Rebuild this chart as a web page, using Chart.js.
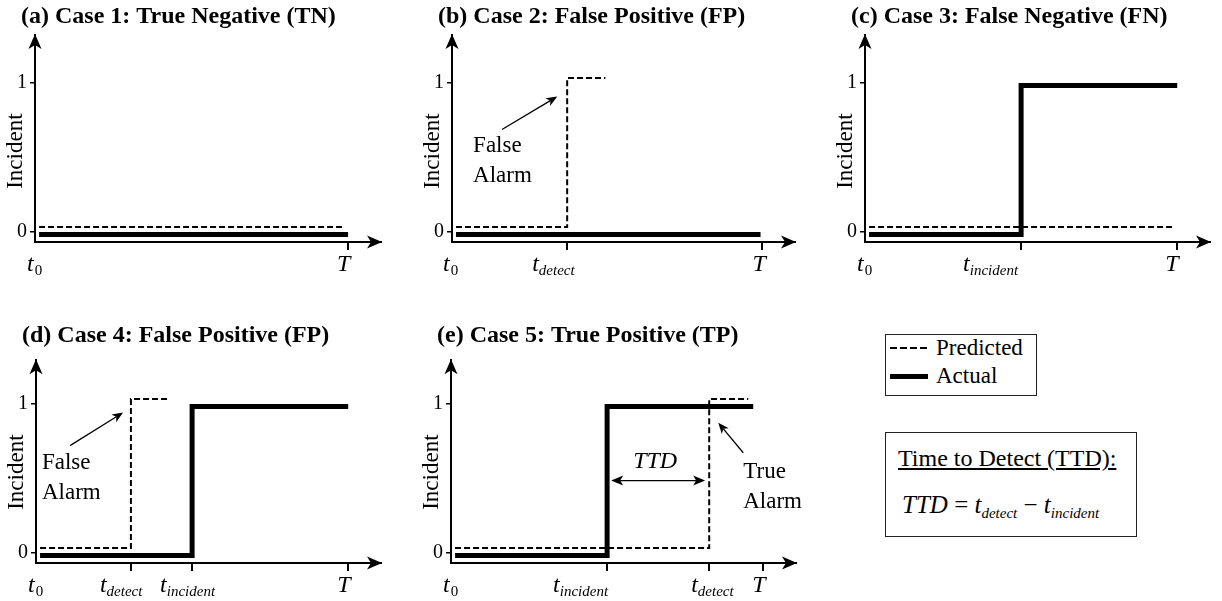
<!DOCTYPE html>
<html>
<head>
<meta charset="utf-8">
<script src="https://cdn.jsdelivr.net/npm/chart.js@4.4.0/dist/chart.umd.min.js"></script>
<style>
html, body { margin:0; padding:0; background:#fff; width:1222px; height:601px; overflow:hidden; }
body { position:relative; font-family:'Liberation Serif', serif; color:#000; }
canvas { position:absolute; }
.box { position:absolute; box-sizing:border-box; border:1.5px solid #222; }
.txt { position:absolute; white-space:pre; line-height:1; font-family:'Liberation Serif', serif; }
.it { font-style:italic; }
.sub { font-size:15px; font-style:italic; position:relative; top:5px; }
</style>
</head>
<body>
<div class="box" style="left:885px;top:334px;width:152px;height:62px;"></div>
<div style="position:absolute;left:890px;top:347px;width:38px;height:2px;background:repeating-linear-gradient(to right,#000 0 7px,transparent 7px 10px);"></div>
<div style="position:absolute;left:890px;top:374px;width:38px;height:5px;background:#000;"></div>
<div class="txt" id="legPred" style="left:936px;top:336px;font-size:23px;"></div>
<div class="txt" id="legAct" style="left:936px;top:364px;font-size:23px;"></div>

<div class="box" style="left:885px;top:432px;width:252px;height:105px;"></div>
<div class="txt" style="left:898px;top:446px;font-size:24px;text-decoration:underline;text-underline-offset:2px;">Time to Detect (TTD):</div>
<div class="txt" style="left:902px;top:492px;font-size:25px;"><span class="it">TTD</span> = <span class="it">t</span><span class="sub">detect</span> − <span class="it">t</span><span class="sub">incident</span></div>

<script>
// ---------------- data ----------------
const caseTitles = [
  '(a) Case 1: True Negative (TN)',
  '(b) Case 2: False Positive (FP)',
  '(c) Case 3: False Negative (FN)',
  '(d) Case 4: False Positive (FP)',
  '(e) Case 5: True Positive (TP)'
];
const seriesNames = ['Predicted', 'Actual'];
const tDetect = [null, 0.371, null, 0.304, 0.827];
const tIncident = [null, null, 0.5, 0.5, 0.5];
const seriesStart = 0.013;
const predictedEnd = [0.99, 0.494, 0.987, 0.426, 0.952];
const actualEnd = [1.0, 0.994, 1.0, 1.0, 0.968];
const predictedLevels = [0.03, 1.03];
const actualLevels = [-0.02, 0.98];
const yTickValues = [0, 1];
const yTickLabels = ['0', '1'];
const yAxisTitle = 'Incident';
const xEndLabel = 'T';

// ---------------- layout (positions / styles) ----------------
const PX_Y = 149;
const Y_MIN = -0.07, X_MAX = 1.105;
const LEFT_W = 40, RIGHT_PAD = 15, BOTTOM_H = 38;
const SERIF = '"Liberation Serif"';
const panelLayout = [
  {axisX:35,  axisY:242, unitX:313, yMax:1.32, titleY:23},
  {axisX:452, axisY:242, unitX:310, yMax:1.32, titleY:23},
  {axisX:865, axisY:242, unitX:312, yMax:1.32, titleY:23},
  {axisX:36,  axisY:563, unitX:312, yMax:1.29, titleY:342},
  {axisX:451, axisY:563, unitX:312, yMax:1.29, titleY:342}
];
const tickLabelDx = [
  {t0:-8, T:-11},
  {t0:-9, detect:-35, T:-10},
  {t0:-8, incident:-58, T:-12},
  {t0:-8, detect:-31, incident:-32, T:-11},
  {t0:-8, incident:-54, detect:-18, T:-11}
];
const annotations = [
  [],
  [
    {kind:'text', lines:['False','Alarm'], x:0.068, ys:[0.537,0.336]},
    {kind:'arrow', from:[0.161,0.685], to:[0.339,0.906]}
  ],
  [],
  [
    {kind:'text', lines:['False','Alarm'], x:0.019, ys:[0.564,0.362]},
    {kind:'arrow', from:[0.109,0.718], to:[0.279,0.94]}
  ],
  [
    {kind:'ttd', y:0.483, textY:0.57, gap:0.013},
    {kind:'text', lines:['True','Alarm'], x:0.936, ys:[0.503,0.302]},
    {kind:'arrow', from:[0.936,0.67], to:[0.856,0.872]}
  ]
];

document.getElementById('legPred').textContent = seriesNames[0];
document.getElementById('legAct').textContent = seriesNames[1];

function stepPoints(start, t, end, levels) {
  if (t == null) return [{x:start, y:levels[0]}, {x:end, y:levels[0]}];
  return [{x:start, y:levels[0]}, {x:t, y:levels[1]}, {x:end, y:levels[1]}];
}

function arrowHead(ctx, x, y, ang, len, hw, notch) {
  const c = Math.cos(ang), s = Math.sin(ang);
  const bx = x - len * c, by = y - len * s;
  ctx.beginPath();
  ctx.moveTo(x, y);
  ctx.lineTo(bx - hw * s, by + hw * c);
  ctx.lineTo(x - (len - notch) * c, y - (len - notch) * s);
  ctx.lineTo(bx + hw * s, by - hw * c);
  ctx.closePath();
  ctx.fill();
}

function arrowLine(ctx, x1, y1, x2, y2, len, hw, notch, both) {
  const ang = Math.atan2(y2 - y1, x2 - x1);
  const c = Math.cos(ang), s = Math.sin(ang);
  const sx = both ? x1 + (len - notch) * c : x1, sy = both ? y1 + (len - notch) * s : y1;
  ctx.beginPath();
  ctx.moveTo(sx, sy);
  ctx.lineTo(x2 - (len - notch) * c, y2 - (len - notch) * s);
  ctx.stroke();
  arrowHead(ctx, x2, y2, ang, len, hw, notch);
  if (both) arrowHead(ctx, x1, y1, ang + Math.PI, len, hw, notch);
}

function tickLabelsFor(i) {
  const list = [{v:0, main:'t', sub:'0', key:'t0', subItalic:false}];
  if (tDetect[i] != null) list.push({v:tDetect[i], main:'t', sub:'detect', key:'detect', subItalic:true});
  if (tIncident[i] != null) list.push({v:tIncident[i], main:'t', sub:'incident', key:'incident', subItalic:true});
  list.push({v:1, main:xEndLabel, sub:'', key:'T'});
  return list.sort((a, b) => a.v - b.v);
}

const decorPlugin = {
  id: 'caseDecor',
  afterDraw(chart, args, opts) {
    const i = opts.panel;
    const L = panelLayout[i];
    const {ctx, chartArea: a} = chart;
    const xs = chart.scales.x, ys = chart.scales.y;
    ctx.save();
    ctx.fillStyle = '#000';
    ctx.strokeStyle = '#000';
    // axis arrowheads
    arrowHead(ctx, a.left, a.top - 1, -Math.PI / 2, 15, 6.5, 4);
    arrowHead(ctx, a.right + 1, a.bottom, 0, 15, 6.5, 4);
    // title
    ctx.textBaseline = 'alphabetic';
    ctx.textAlign = 'left';
    ctx.font = 'bold 24px ' + SERIF;
    ctx.fillText(caseTitles[i], a.left - 14, L.titleY - opts.canvasTop);
    // y axis title
    ctx.save();
    ctx.font = '23px ' + SERIF;
    ctx.translate(a.left - 19, ys.getPixelForValue(0.54));
    ctx.rotate(-Math.PI / 2);
    ctx.textAlign = 'center';
    ctx.textBaseline = 'middle';
    ctx.fillText(yAxisTitle, 0, 0);
    ctx.restore();
    // x tick labels
    const baseY = a.bottom + 29;
    tickLabelsFor(i).forEach(t => {
      const px = xs.getPixelForValue(t.v) + (tickLabelDx[i][t.key] || 0);
      ctx.font = 'italic 24px ' + SERIF;
      ctx.fillText(t.main, px, baseY);
      const w = ctx.measureText(t.main).width;
      if (t.sub) {
        ctx.font = (t.subItalic ? 'italic ' : '') + '15px ' + SERIF;
        ctx.fillText(t.sub, px + w + (t.subItalic ? 0 : 1), baseY + 4);
      }
    });
    // annotations
    ctx.lineWidth = 1.3;
    annotations[i].forEach(an => {
      if (an.kind === 'text') {
        ctx.font = '23px ' + SERIF;
        ctx.textAlign = 'left';
        an.lines.forEach((ln, k) => ctx.fillText(ln, xs.getPixelForValue(an.x), ys.getPixelForValue(an.ys[k])));
      } else if (an.kind === 'arrow') {
        arrowLine(ctx, xs.getPixelForValue(an.from[0]), ys.getPixelForValue(an.from[1]),
                  xs.getPixelForValue(an.to[0]), ys.getPixelForValue(an.to[1]), 11, 4.5, 3, false);
      } else if (an.kind === 'ttd') {
        const x1 = xs.getPixelForValue(tIncident[i] + an.gap);
        const x2 = xs.getPixelForValue(tDetect[i] - an.gap);
        const y = ys.getPixelForValue(an.y);
        arrowLine(ctx, x1, y, x2, y, 12, 5, 3, true);
        ctx.font = 'italic 24px ' + SERIF;
        ctx.textAlign = 'center';
        ctx.fillText('TTD', xs.getPixelForValue((tIncident[i] + tDetect[i]) / 2) - 3, ys.getPixelForValue(an.textY));
      }
    });
    ctx.restore();
  }
};

panelLayout.forEach((L, i) => {
  const plotW = X_MAX * L.unitX;
  const plotH = (L.yMax - Y_MIN) * PX_Y;
  const canvasTop = L.titleY - 23;
  const canvasLeft = L.axisX - LEFT_W;
  const W = Math.round(LEFT_W + plotW + RIGHT_PAD);
  const H = L.axisY - canvasTop + BOTTOM_H;
  const padTop = (L.axisY - plotH) - canvasTop;
  const cv = document.createElement('canvas');
  cv.width = W; cv.height = H;
  cv.style.left = canvasLeft + 'px';
  cv.style.top = canvasTop + 'px';
  cv.style.width = W + 'px';
  cv.style.height = H + 'px';
  document.body.appendChild(cv);

  const xTicks = tickLabelsFor(i).filter(t => t.v > 0).map(t => t.v);

  new Chart(cv.getContext('2d'), {
    type: 'line',
    data: {
      datasets: [
        {
          label: seriesNames[1],
          data: stepPoints(seriesStart, tIncident[i], actualEnd[i], actualLevels),
          borderColor: '#000', borderWidth: 5, stepped: true, pointRadius: 0,
          borderJoinStyle: 'miter', borderCapStyle: 'butt', fill: false
        },
        {
          label: seriesNames[0],
          data: stepPoints(seriesStart, tDetect[i], predictedEnd[i], predictedLevels),
          borderColor: '#000', borderWidth: 2, borderDash: [6, 3], stepped: true, pointRadius: 0,
          borderJoinStyle: 'miter', borderCapStyle: 'butt', fill: false
        }
      ]
    },
    options: {
      responsive: false,
      animation: false,
      events: [],
      layout: { autoPadding: false, padding: { left: 0, top: padTop, right: RIGHT_PAD, bottom: 0 } },
      plugins: {
        legend: { display: false },
        tooltip: { enabled: false },
        title: { display: false },
        caseDecor: { panel: i, canvasTop: canvasTop }
      },
      scales: {
        x: {
          type: 'linear', min: 0, max: X_MAX,
          afterBuildTicks: s => { s.ticks = xTicks.map(v => ({value: v})); },
          afterFit: s => { s.height = BOTTOM_H; },
          ticks: { display: false },
          grid: { drawOnChartArea: false, drawTicks: true, tickLength: 8, color: '#000', lineWidth: 2 },
          border: { display: true, color: '#000', width: 2 }
        },
        y: {
          type: 'linear', min: Y_MIN, max: L.yMax,
          afterBuildTicks: s => { s.ticks = yTickValues.map(v => ({value: v})); },
          afterFit: s => { s.width = LEFT_W; },
          ticks: {
            callback: v => yTickLabels[yTickValues.indexOf(v)],
            font: { family: SERIF, size: 20 }, color: '#000', padding: 3
          },
          grid: { drawOnChartArea: false, drawTicks: true, tickLength: 5, color: '#000', lineWidth: 1.5 },
          border: { display: true, color: '#000', width: 2 }
        }
      }
    },
    plugins: [decorPlugin]
  });
});
</script>
</body>
</html>
